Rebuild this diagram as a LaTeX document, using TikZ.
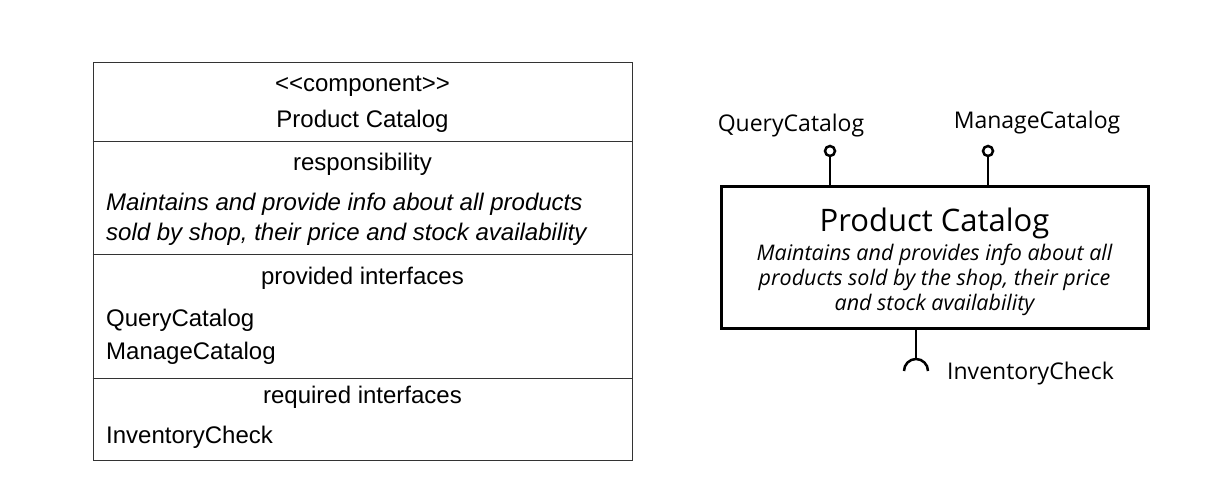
\documentclass[tikz,border=0pt]{standalone}
\usepackage{fontspec}
\setmainfont{Liberation Sans}
\newfontfamily\rfont{Open Sans}
\begin{document}
\begin{tikzpicture}[x=1pt,y=-1pt,
  ltext/.style={inner sep=0pt, font=\fontsize{24}{28}\selectfont},
  litext/.style={inner sep=0pt, font=\fontsize{24}{28}\selectfont\itshape},
  rlabel/.style={inner sep=0pt, font=\rfont\fontsize{23}{27}\selectfont},
  rtitle/.style={inner sep=0pt, font=\rfont\fontsize{31}{36}\selectfont},
  ritext/.style={inner sep=0pt, font=\rfont\itshape\fontsize{21.5}{25}\selectfont},
  thinline/.style={draw=black!80, line width=1pt},
  lolli/.style={circle, draw, line width=2.5pt, minimum size=10pt, inner sep=0pt, fill=white},
  stem/.style={line width=2.5pt}
]
\useasboundingbox (0,0) rectangle (1211,482);
\fill[white] (0,0) rectangle (1211,482);

% ---------- left: classifier box ----------
\node[thinline, minimum width=539pt, minimum height=398pt, inner sep=0pt] (lbox) at (362.5,261) {};
\coordinate (d1) at (362.5,141);
\coordinate (d2) at (362.5,254);
\coordinate (d3) at (362.5,378);
\draw[thinline] (lbox.west |- d1) -- (lbox.east |- d1);
\draw[thinline] (lbox.west |- d2) -- (lbox.east |- d2);
\draw[thinline] (lbox.west |- d3) -- (lbox.east |- d3);

\node[ltext, anchor=base] (stereo) at (362.5,91) {{<}{<}component{>}{>}};
\node[ltext, anchor=base] (lname) at (362.5,127) {Product Catalog};
\node[ltext, anchor=base] (resp) at (362.5,170) {responsibility};
\node[litext, anchor=base west] (resp1) at (106,210) {Maintains and provide info about all products};
\node[litext, anchor=base west] (resp2) at (106,240) {sold by shop, their price and stock availability};
\node[ltext, anchor=base] (prov) at (362.5,284) {provided interfaces};
\node[ltext, anchor=base west] (prov1) at (106,326) {QueryCatalog};
\node[ltext, anchor=base west] (prov2) at (106,359) {ManageCatalog};
\node[ltext, anchor=base] (req) at (362.5,403) {required interfaces};
\node[ltext, anchor=base west] (req1) at (106,443) {InventoryCheck};

% ---------- right: component notation ----------
\node[draw, line width=3pt, minimum width=427pt, minimum height=142pt, inner sep=0pt] (rbox) at (934.5,257) {};
\node[rtitle, anchor=base] (rname) at (934.5,231) {Product Catalog};
\node[ritext, anchor=base] (rt1) at (934.5,260) {Maintains and provides info about all};
\node[ritext, anchor=base] (rt2) at (934.5,285) {products sold by the shop, their price};
\node[ritext, anchor=base] (rt3) at (934.5,310) {and stock availability};

\node[lolli] (qc) at (830,151) {};
\node[lolli] (mc) at (988,151) {};
\draw[stem] (rbox.north -| qc) -- (qc.south);
\draw[stem] (rbox.north -| mc) -- (mc.south);
\node[rlabel, anchor=base] (qclabel) at (791,131) {QueryCatalog};
\node[rlabel, anchor=base] (mclabel) at (1037,128) {ManageCatalog};

\coordinate (sock) at (916,371);
\coordinate (socktop) at (916,359);
\draw[stem] (rbox.south -| sock) -- (socktop);
\draw[stem] ([xshift=-12pt]sock) arc[start angle=180, end angle=0, radius=12pt];
\node[rlabel, anchor=west] (iclabel) at (947,374) {InventoryCheck};
\end{tikzpicture}
\end{document}
